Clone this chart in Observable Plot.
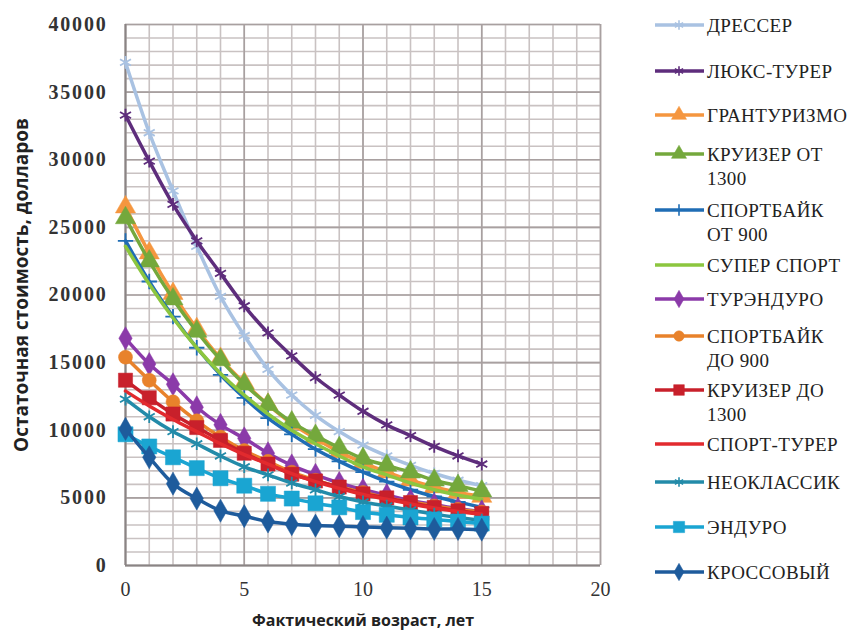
<!DOCTYPE html>
<html>
<head>
<meta charset="utf-8">
<script src="https://cdn.jsdelivr.net/npm/d3@7"></script>
<script src="https://cdn.jsdelivr.net/npm/@observablehq/plot@0.6"></script>
<style>
  html, body { margin: 0; padding: 0; background: #fff; }
  #wrap { position: relative; width: 864px; height: 636px; }
  #legend { position: absolute; left: 0; top: 0; }
  .serif, .serif text { font-family: "Liberation Serif", "DejaVu Serif", "Times New Roman", serif !important; }
  .ytk text { letter-spacing: 1.8px; }
  .sansb, .sansb text { font-family: "Open Sans", "DejaVu Sans", sans-serif !important; font-weight: bold; }
</style>
</head>
<body>
<div id="wrap"></div>
<script>
// ---- Data ----
const ages = [0,1,2,3,4,5,6,7,8,9,10,11,12,13,14,15];

const seriesNames = [
  "ДРЕССЕР", "ЛЮКС-ТУРЕР", "ГРАНТУРИЗМО", "КРУИЗЕР ОТ 1300", "СПОРТБАЙК ОТ 900",
  "СУПЕР СПОРТ", "ТУРЭНДУРО", "СПОРТБАЙК ДО 900", "КРУИЗЕР ДО 1300", "СПОРТ-ТУРЕР",
  "НЕОКЛАССИК", "ЭНДУРО", "КРОССОВЫЙ"
];

const dresser      = [37200, 32000, 27700, 23600, 19900, 17000, 14500, 12600, 11100, 9900, 8900, 8100, 7400, 6800, 6300, 5900];
const luxTourer    = [33300, 29900, 26700, 24000, 21600, 19200, 17200, 15500, 13900, 12600, 11400, 10400, 9600, 8800, 8100, 7500];
const granTurismo  = [26500, 23100, 20100, 17500, 15300, 13500, 11900, 10500, 9400, 8400, 7600, 6900, 6300, 5800, 5400, 5100];
const cruiserOver  = [25700, 22500, 19700, 17300, 15200, 13400, 11900, 10600, 9600, 8700, 7900, 7400, 6900, 6300, 5900, 5500];
const sportOver    = [24000, 21000, 18400, 16100, 14100, 12400, 10900, 9700, 8600, 7700, 6900, 6200, 5600, 5100, 4700, 4300];
const superSport   = [23600, 20800, 18300, 16100, 14200, 12600, 11200, 10000, 9000, 8100, 7300, 6700, 6100, 5600, 5200, 4900];
const tourEnduro   = [16800, 14900, 13400, 11700, 10400, 9400, 8300, 7400, 6700, 6100, 5600, 5200, 4800, 4500, 4200, 4000];
const sportUnder   = [15400, 13700, 12100, 10700, 9500, 8500, 7700, 6900, 6300, 5800, 5400, 5000, 4700, 4400, 4150, 3950];
const cruiserUnder = [13700, 12400, 11200, 10200, 9250, 8300, 7500, 6750, 6250, 5800, 5300, 5000, 4650, 4300, 4050, 3850];
const sportTourer  = [12900, 11800, 10800, 9900, 9000, 8200, 7500, 6800, 6200, 5700, 5250, 4900, 4550, 4250, 4000, 3800];
const neoclassic   = [12300, 11000, 9900, 9000, 8100, 7300, 6700, 6100, 5600, 5100, 4700, 4400, 4100, 3800, 3550, 3350];
const enduro       = [9700, 8800, 8000, 7200, 6450, 5900, 5300, 4950, 4600, 4300, 3950, 3750, 3550, 3400, 3250, 3100];
const cross        = [10100, 8000, 6050, 4950, 4050, 3650, 3250, 3050, 2950, 2900, 2850, 2800, 2750, 2700, 2700, 2650];

const seriesValues = [dresser, luxTourer, granTurismo, cruiserOver, sportOver, superSport,
  tourEnduro, sportUnder, cruiserUnder, sportTourer, neoclassic, enduro, cross];

const xTicks = [0, 5, 10, 15, 20];
const yTicks = [0, 5000, 10000, 15000, 20000, 25000, 30000, 35000, 40000];

const xTitle = "Фактический возраст, лет";
const yTitle = "Остаточная стоимость, долларов";

// ---- Styles ----
const styles = [
  {color: "#a9c2e2", symbol: "asterisk", r: 6,   width: 3.5},
  {color: "#5e2d7c", symbol: "asterisk", r: 6,   width: 3.5},
  {color: "#f5963f", symbol: "triangle", r: 7.5, width: 3.5},
  {color: "#74a83c", symbol: "triangle", r: 7.5, width: 3.5},
  {color: "#1f6db5", symbol: "plus",     r: 5,   width: 3.5},
  {color: "#8cc63f", symbol: null,       r: 0,   width: 3.5},
  {color: "#8b3aa9", symbol: "diamond",  r: 7,   width: 3.5},
  {color: "#e8822b", symbol: "circle",   r: 7,   width: 3.5},
  {color: "#c8202b", symbol: "square",   r: 8,   width: 3.5},
  {color: "#e22a2e", symbol: null,       r: 0,   width: 3.5},
  {color: "#238ba9", symbol: "asterisk", r: 6,   width: 3.5},
  {color: "#1aa5d2", symbol: "square",   r: 8.5, width: 3.5},
  {color: "#1e5b9c", symbol: "diamond",  r: 7,   width: 3.5}
];

const rows = [];
seriesNames.forEach((name, i) => {
  seriesValues[i].forEach((v, j) => rows.push({series: name, idx: i, age: ages[j], value: v}));
});

const minorX = d3.range(0, 21, 1);
const minorY = d3.range(0, 40001, 1000);

const marks = [
  Plot.ruleX(minorX, {stroke: "#c9c2c2", strokeWidth: 1.6}),
  Plot.ruleY(minorY, {stroke: "#c9c2c2", strokeWidth: 1.6}),
  Plot.ruleX(xTicks, {stroke: "#a8a0a0", strokeWidth: 1.6}),
  Plot.ruleY(yTicks, {stroke: "#a8a0a0", strokeWidth: 1.6}),
  Plot.ruleX([0], {stroke: "#8a8484", strokeWidth: 2}),
  Plot.ruleY([0], {stroke: "#8a8484", strokeWidth: 2}),
  Plot.axisX({ticks: xTicks, tickSize: 0, tickPadding: 16, label: null, className: "serif",
    fontSize: 20, fill: "#333"}),
  Plot.axisY({ticks: yTicks, tickSize: 0, tickPadding: 18, label: null, className: "serif ytk",
    tickFormat: d => String(d), fontSize: 20, fontWeight: "bold", fill: "#333"}),
  Plot.text([xTitle], {frameAnchor: "bottom", dy: 60, className: "sansb",
    fontSize: 16, fill: "#222"}),
  Plot.text([yTitle], {frameAnchor: "left", textAnchor: "middle", dx: -104, dy: -10, rotate: -90, className: "sansb",
    fontSize: 19, fill: "#222"})
];

seriesNames.forEach((name, i) => {
  const st = styles[i];
  const data = rows.filter(d => d.idx === i);
  marks.push(Plot.line(data, {x: "age", y: "value", stroke: st.color, strokeWidth: st.width, curve: "monotone-x"}));
  if (st.symbol) {
    const isStroke = ["asterisk", "plus", "times", "cross"].includes(st.symbol);
    marks.push(Plot.dot(data, {x: "age", y: "value", symbol: () => st.symbol, r: st.r,
      fill: isStroke ? "none" : st.color, stroke: st.color, strokeWidth: isStroke ? 1.8 : 0.5}));
  }
});

const chart = Plot.plot({
  width: 864, height: 636,
  marginLeft: 125, marginRight: 264, marginTop: 24, marginBottom: 71,
  x: {domain: [0, 20]},
  y: {domain: [0, 40000]},
  symbol: {type: "identity"},
  style: {background: "white", overflow: "visible"},
  marks
});
document.getElementById("wrap").appendChild(chart);

// ---- Legend ----
const legendRows = [
  ["ДРЕССЕР"], ["ЛЮКС-ТУРЕР"], ["ГРАНТУРИЗМО"], ["КРУИЗЕР ОТ", "1300"], ["СПОРТБАЙК", "ОТ 900"],
  ["СУПЕР СПОРТ"], ["ТУРЭНДУРО"], ["СПОРТБАЙК", "ДО 900"], ["КРУИЗЕР ДО", "1300"], ["СПОРТ-ТУРЕР"],
  ["НЕОКЛАССИК"], ["ЭНДУРО"], ["КРОССОВЫЙ"]
];
const legendY = [25, 71, 115, 154, 210, 265, 299, 336, 390, 444, 482, 527, 572];

const svg = d3.select("#wrap").append("svg")
  .attr("id", "legend").attr("width", 864).attr("height", 636);
const symMap = {asterisk: d3.symbolAsterisk, triangle: d3.symbolTriangle, plus: d3.symbolPlus,
  diamond: d3.symbolDiamond, circle: d3.symbolCircle, square: d3.symbolSquare};
legendRows.forEach((lines, i) => {
  const st = styles[i];
  const y = legendY[i];
  const g = svg.append("g");
  g.append("line").attr("x1", 655).attr("x2", 704).attr("y1", y).attr("y2", y)
    .attr("stroke", st.color).attr("stroke-width", 3.5);
  if (st.symbol) {
    const isStroke = ["asterisk", "plus"].includes(st.symbol);
    const rr = st.r * 0.75;
    g.append("path").attr("transform", `translate(679,${y})`)
      .attr("d", d3.symbol(symMap[st.symbol], Math.PI * rr * rr)())
      .attr("fill", isStroke ? "none" : st.color).attr("stroke", st.color).attr("stroke-width", isStroke ? 1.6 : 0.5);
  }
  lines.forEach((t, k) => {
    g.append("text").attr("x", 707).attr("y", y + k * 24).attr("dy", "0.35em")
      .style("font-family", "'Liberation Serif', 'DejaVu Serif', 'Times New Roman', serif")
      .style("font-size", "19px").style("letter-spacing", "0.4px").attr("fill", "#222")
      .text(t);
  });
});
</script>
</body>
</html>
